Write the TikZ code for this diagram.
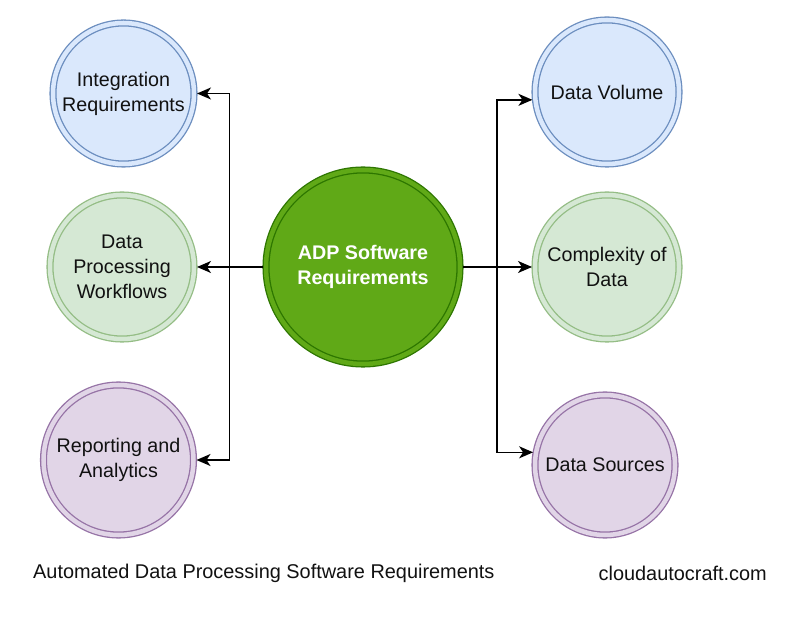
\documentclass[tikz,border=0pt]{standalone}
\usepackage{fontspec}
\setmainfont{Liberation Sans}
\usetikzlibrary{arrows.meta}
\definecolor{bluefill}{HTML}{DAE8FC}\definecolor{bluedraw}{HTML}{6C8EBF}
\definecolor{greenfill}{HTML}{D5E8D4}\definecolor{greendraw}{HTML}{94BD85}
\definecolor{purplefill}{HTML}{E1D5E7}\definecolor{purpledraw}{HTML}{9673A6}
\definecolor{mainfill}{HTML}{60A917}\definecolor{maindraw}{HTML}{2D7600}
\definecolor{txt}{HTML}{111111}
\begin{document}
\begin{tikzpicture}[x=1pt,y=1pt,
  dcirc/.style={circle, draw=#1draw, fill=#1fill, double=#1fill, double distance=4.5pt,
    line width=1.3pt, outer sep=3pt, inner sep=0pt, align=center, text=txt,
    font=\fontsize{19.7}{25}\selectfont},
  conn/.style={line width=1.6pt, -{Stealth[length=14pt,width=12pt,inset=4pt]}},
  caption/.style={text=txt, font=\fontsize{19.9}{24}\selectfont, inner sep=0pt}]
\useasboundingbox (0,0) rectangle (800,616);
\fill[white] (0,0) rectangle (800,616);
\node[dcirc=main, minimum size=194pt, text=white, font=\bfseries\fontsize{19.7}{25}\selectfont] (center) at (363,349) {ADP Software\\Requirements};
\node[dcirc=blue, minimum size=141pt] (int) at (123.5,522.5) {Integration\\Requirements};
\node[dcirc=green, minimum size=144pt] (dpw) at (122,349) {Data\\Processing\\Workflows};
\node[dcirc=purple, minimum size=150pt] (rep) at (118.5,156) {Reporting and\\Analytics};
\node[dcirc=blue, minimum size=144pt] (vol) at (607,524) {Data Volume};
\node[dcirc=green, minimum size=144pt] (cpx) at (607,349) {Complexity of\\Data};
\node[dcirc=purple, minimum size=140pt] (src) at (605,151) {Data Sources};
\coordinate (lt) at (229.5,349);
\coordinate (rt) at (497,349);
\draw[conn] (center.west) -- (dpw.east);
\draw[conn] (lt) |- (int.east);
\draw[conn] (lt) |- (rep.east);
\draw[conn] (center.east) -- (cpx.west);
\draw[conn] (rt) |- (vol.186);
\draw[conn] (rt) |- (src.170);
\node[caption, anchor=west] (cap) at (33,43) {Automated Data Processing Software Requirements};
\node[caption, anchor=east] (site) at (767,43) {cloudautocraft.com};
\end{tikzpicture}
\end{document}
